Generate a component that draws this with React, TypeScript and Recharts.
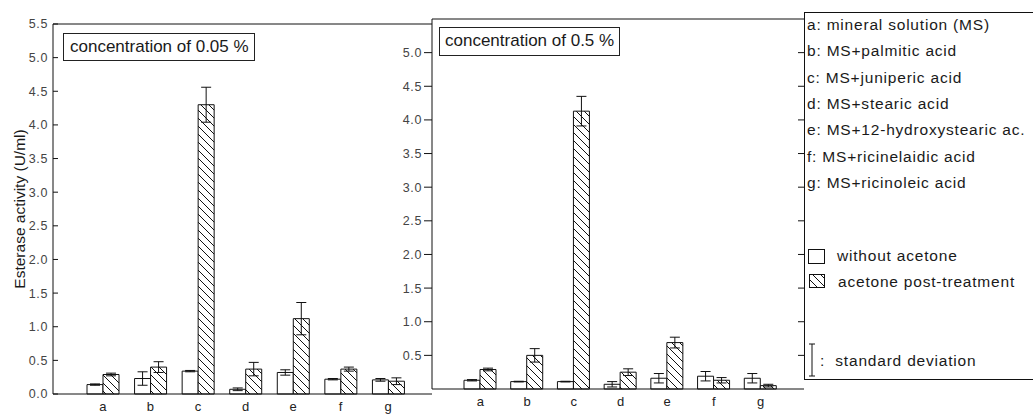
import React from 'react';
import { ComposedChart, Bar, Line, XAxis, YAxis, ErrorBar, ReferenceLine } from 'recharts';

const categories = ['a', 'b', 'c', 'd', 'e', 'f', 'g'];

// concentration 0.05 %
const lowWithout = [0.14, 0.23, 0.34, 0.07, 0.32, 0.22, 0.21];
const lowWithoutErr = [0.01, 0.1, 0.01, 0.02, 0.04, 0.01, 0.02];
const lowAcetone = [0.29, 0.4, 4.3, 0.37, 1.12, 0.37, 0.19];
const lowAcetoneErr = [0.02, 0.08, 0.26, 0.1, 0.24, 0.03, 0.05];

// concentration 0.5 %
const highWithout = [0.13, 0.11, 0.11, 0.07, 0.16, 0.19, 0.16];
const highWithoutErr = [0.01, 0.005, 0.005, 0.04, 0.07, 0.07, 0.07];
const highAcetone = [0.29, 0.5, 4.13, 0.25, 0.69, 0.13, 0.05];
const highAcetoneErr = [0.02, 0.1, 0.22, 0.05, 0.08, 0.04, 0.02];

const leftTicks = [0, 0.5, 1, 1.5, 2, 2.5, 3, 3.5, 4, 4.5, 5, 5.5];
const rightTicks = [0.5, 1, 1.5, 2, 2.5, 3, 3.5, 4, 4.5, 5];

const legendLines = [
  'a: mineral solution (MS)',
  'b: MS+palmitic acid',
  'c: MS+juniperic acid',
  'd: MS+stearic acid',
  'e: MS+12-hydroxystearic ac.',
  'f: MS+ricinelaidic acid',
  'g: MS+ricinoleic acid',
];

const FONT = '"Liberation Sans", Arial, sans-serif';

function makeRows(w: number[], we: number[], a: number[], ae: number[]) {
  return categories.map((cat, i) => ({
    cat,
    without: w[i],
    withoutErr: we[i],
    acetone: a[i],
    acetoneErr: ae[i],
  }));
}

const lowData = makeRows(lowWithout, lowWithoutErr, lowAcetone, lowAcetoneErr);
const highData = makeRows(highWithout, highWithoutErr, highAcetone, highAcetoneErr);

function Hatch({ id }: { id: string }) {
  return (
    <defs>
      <pattern id={id} width="8" height="8" patternUnits="userSpaceOnUse">
        <rect width="8" height="8" fill="#fff" />
        <path d="M0,0 L8,8 M-4,4 L4,12 M4,-4 L12,4" stroke="#111" strokeWidth="1" />
      </pattern>
    </defs>
  );
}

interface PanelProps {
  data: any[];
  left: number;
  top: number;
  width: number;
  axisWidth: number;
  padding: { left: number; right: number };
  ticks: number[];
  first: boolean;
  id: string;
}

function Panel({ data, left, top, width, axisWidth, padding, ticks, first, id }: PanelProps) {
  const tickStyle = { fill: '#444', fontSize: 12.5, fontFamily: FONT, letterSpacing: 0.6 };
  return (
    <div style={{ position: 'absolute', left, top }}>
      <ComposedChart
        width={width}
        height={430}
        data={data}
        margin={{ top: 24, right: 0, left: 0, bottom: 0 }}
        barGap={0}
        barSize={16}
      >
        <Hatch id={id} />
        <XAxis
          dataKey="cat"
          height={36}
          padding={padding}
          tickLine={false}
          stroke="#111"
          tick={{ fill: '#222', fontSize: 13, fontFamily: FONT }}
          tickMargin={2}
        />
        <YAxis
          width={axisWidth}
          domain={[0, 5.5]}
          ticks={ticks}
          interval={0}
          stroke="#111"
          tick={tickStyle}
          tickFormatter={(v: number) => v.toFixed(1)}
          tickSize={first ? -5 : 8}
          tickMargin={first ? 10 : 2}
        />
        <ReferenceLine y={5.5} stroke="#111" />
        <Bar dataKey="without" fill="#fff" stroke="#111" strokeWidth={1} isAnimationActive={false}>
          <ErrorBar dataKey="withoutErr" width={5} stroke="#111" strokeWidth={1} />
        </Bar>
        <Bar dataKey="acetone" fill={`url(#${id})`} stroke="#111" strokeWidth={1} isAnimationActive={false}>
          <ErrorBar dataKey="acetoneErr" width={5} stroke="#111" strokeWidth={1} />
        </Bar>
      </ComposedChart>
    </div>
  );
}

// the right frame of the 0.5 % panel: only inward ticks, on the legend border
function RightFrame({ data, left, top }: { data: any[]; left: number; top: number }) {
  return (
    <div style={{ position: 'absolute', left, top }}>
      <ComposedChart width={20} height={430} data={data} margin={{ top: 24, right: 0, left: 0, bottom: 36 }}>
        <XAxis dataKey="cat" hide />
        <YAxis
          orientation="right"
          width={10}
          domain={[0, 5.5]}
          ticks={rightTicks}
          interval={0}
          stroke="#111"
          axisLine={false}
          tickFormatter={() => ''}
          tickSize={-6}
        />
        <Line dataKey="without" stroke="none" dot={false} activeDot={false} isAnimationActive={false} />
      </ComposedChart>
    </div>
  );
}

export default function App() {
  const text = { position: 'absolute' as const, fontFamily: FONT, color: '#1a1a1a', whiteSpace: 'nowrap' as const };
  const legendText = { ...text, fontSize: 15.5, lineHeight: '19px', letterSpacing: 0.8 };
  return (
    <div style={{ position: 'relative', width: 1033, height: 414, background: '#fff', overflow: 'hidden' }}>
      <style>{'body{margin:0;}'}</style>
      <Panel
        data={lowData}
        left={0}
        top={0}
        width={432}
        axisWidth={53}
        padding={{ left: 26, right: 20 }}
        ticks={leftTicks}
        first
        id="hatchLow"
      />
      <Panel
        data={highData}
        left={380}
        top={-5}
        width={424}
        axisWidth={52}
        padding={{ left: 25, right: 20 }}
        ticks={rightTicks}
        first={false}
        id="hatchHigh"
      />
      <RightFrame data={highData} left={794} top={-5} />

      {/* y axis title */}
      <div
        style={{
          ...text,
          left: 20,
          top: 209,
          fontSize: 15.5,
          transform: 'translate(-50%, -50%) rotate(-90deg)',
        }}
      >
        Esterase activity (U/ml)
      </div>

      {/* panel titles */}
      <div style={{ ...text, left: 63, top: 33, width: 192, height: 28, border: '1px solid #222', fontSize: 17, lineHeight: '26px', paddingLeft: 6, boxSizing: 'border-box' }}>
        concentration of 0.05 %
      </div>
      <div style={{ ...text, left: 439, top: 27, width: 181, height: 29, border: '1px solid #222', fontSize: 17, lineHeight: '26px', paddingLeft: 5, boxSizing: 'border-box' }}>
        concentration of 0.5 %
      </div>

      {/* legend box */}
      <div style={{ position: 'absolute', left: 804, top: 12, width: 240, height: 366, borderLeft: '1px solid #111', borderTop: '1px solid #111', borderBottom: '1px solid #111' }} />
      {legendLines.map((l, i) => (
        <div key={l} style={{ ...legendText, left: 807, top: 15 + i * 26.3 }}>
          {l}
        </div>
      ))}
      <svg style={{ position: 'absolute', left: 806, top: 244 }} width={24} height={50}>
        <defs>
          <pattern id="hatchLegend" width="8" height="8" patternUnits="userSpaceOnUse">
            <path d="M0,0 L8,8 M-4,4 L4,12 M4,-4 L12,4" stroke="#111" strokeWidth="1" />
          </pattern>
        </defs>
        <rect x={2.5} y={5.5} width={16} height={14} fill="#fff" stroke="#111" />
        <rect x={3.5} y={30.5} width={15} height={13} fill="url(#hatchLegend)" stroke="#111" />
      </svg>
      <div style={{ ...legendText, left: 837, top: 246 }}>without acetone</div>
      <div style={{ ...legendText, left: 838, top: 272 }}>acetone post-treatment</div>
      <svg style={{ position: 'absolute', left: 806, top: 340 }} width={12} height={40}>
        <path d="M3,4 L9,4 M6,4 L6,36 M3,36 L9,36" stroke="#111" strokeWidth={1} fill="none" />
      </svg>
      <div style={{ ...legendText, left: 820, top: 351 }}>:&nbsp;&nbsp;standard deviation</div>
    </div>
  );
}
